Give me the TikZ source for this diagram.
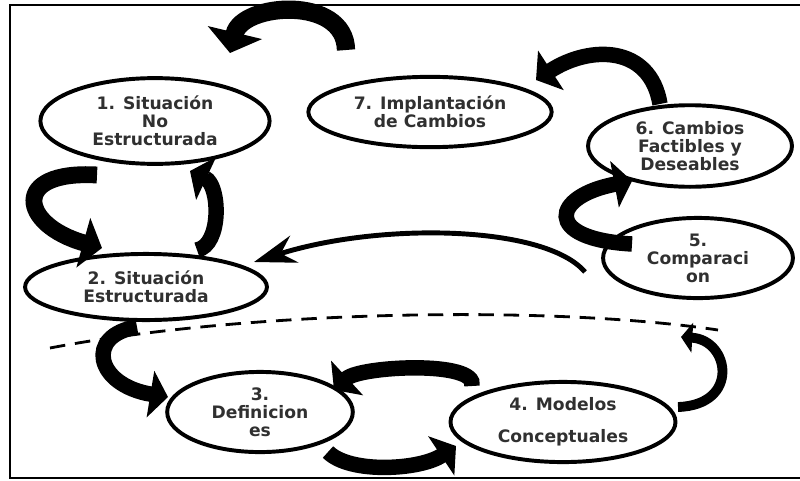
\documentclass[tikz,border=0pt]{standalone}
\usepackage{fontspec}
\setmainfont{DejaVu Sans}
\usetikzlibrary{arrows.meta,shapes.geometric,calc}
\definecolor{inkgray}{HTML}{303030}
\begin{document}
\begin{tikzpicture}[x=0.025cm,y=-0.025cm,
  stage/.style={ellipse,draw=black,line width=2.8pt,inner sep=0pt,align=center,
    text=inkgray,font=\bfseries\fontsize{12.2}{12.8}\selectfont},
  bigarrow/.style={line width=#1,draw=black,
    -{Triangle[width=0pt 3,length=0pt 1.15]}},
  thinarrow/.style={line width=3.5pt,draw=black,
    -{Stealth[length=30pt,width=20pt,inset=10pt]}},
  border/.style={line width=1.8pt,draw=black},
  boundary/.style={line width=2pt,draw=black,dash pattern=on 11pt off 7pt}]

\useasboundingbox (0,0) rectangle (800,480);
\fill[white] (0,0) rectangle (800,480);
\draw[border] (803,5) -- (10,5) -- (10,478) -- (803,478);

% stages of the methodology
\node[stage,minimum width=163pt,minimum height=61pt] (n1) at (155,121) {1. Situación\\No\\Estructurada};
\node[stage,minimum width=172pt,minimum height=47pt] (n2) at (146,287) {2. Situación\\Estructurada};
\node[stage,minimum width=132pt,minimum height=57pt] (n3) at (260,412) {3.\\Definicion\\es};
\node[stage,minimum width=160pt,minimum height=57pt] (n4) at (563,422) {4. Modelos\\[10pt]Conceptuales};
\node[stage,minimum width=135pt,minimum height=57pt] (n5) at (698,258) {5.\\Comparaci\\on};
\node[stage,minimum width=145pt,minimum height=58pt] (n6) at (690,146) {6. Cambios\\Factibles y\\Deseables};
\node[stage,minimum width=173pt,minimum height=50pt] (n7) at (430,112) {7. Implantación\\de Cambios};

% arrow ends placed around the stages
\coordinate (a7) at ([shift={(-84,-62)}]n7.center);
\coordinate (a1) at ([shift={(75,-68)}]n1.center);
\coordinate (b6) at ([shift={(-30,-42)}]n6.center);
\coordinate (b7) at ([shift={(106,-32)}]n7.center);
\coordinate (c5) at ([shift={(-66,-14)}]n5.center);
\coordinate (c6) at ([shift={(-58,35)}]n6.center);
\coordinate (d5) at ([shift={(-113,14)}]n5.center);
\coordinate (d2) at ([shift={(108,-25)}]n2.center);
\coordinate (e1) at ([shift={(-58,54)}]n1.center);
\coordinate (e2) at ([shift={(-44,-39)}]n2.center);
\coordinate (f2) at ([shift={(51,-37)}]n2.center);
\coordinate (f1) at ([shift={(35,50)}]n1.center);
\coordinate (g2) at ([shift={(-9,40)}]n2.center);
\coordinate (g3) at ([shift={(-92,-15)}]n3.center);
\coordinate (h4) at ([shift={(-91,-36)}]n4.center);
\coordinate (h3) at ([shift={(74,-22)}]n3.center);
\coordinate (i3) at ([shift={(68,40)}]n3.center);
\coordinate (i4) at ([shift={(-107,24)}]n4.center);
\coordinate (j4) at ([shift={(115,-15)}]n4.center);
\coordinate (j5) at ([shift={(-17,79)}]n5.center);

% dashed boundary between the real world and systems thinking
\coordinate (bl) at (50,348);
\coordinate (br) at (718,330);
\draw[boundary] (bl) .. controls (250,310) and (550,305) .. (br);

% transitions
\draw[bigarrow=13pt] (a7) .. controls +(-1,-55) and +(12,-50) .. (a1);
\draw[bigarrow=11pt] (b6) .. controls +(-10,-59) and +(54,-35) .. (b7);
\draw[bigarrow=11pt] (c5) .. controls +(-90,-5) and +(-80,15) .. (c6);
\draw[thinarrow] (d5) .. controls +(-40,-47) and +(126,-40) .. (d2);
\draw[bigarrow=12pt] (e1) .. controls +(-87,-5) and +(-82,-23) .. (e2);
\draw[bigarrow=11pt] (f2) .. controls +(25,-5) and +(30,14) .. (f1);
\draw[bigarrow=11pt] (g2) .. controls +(-52,8) and +(-73,-12) .. (g3);
\draw[bigarrow=11pt] (h4) .. controls +(6,-26) and +(26,-24) .. (h3);
\draw[bigarrow=11pt] (i3) .. controls +(22,22) and +(-36,24) .. (i4);
\draw[bigarrow=7pt] (j4) .. controls +(62,-2) and +(49,3) .. (j5);
\end{tikzpicture}
\end{document}
